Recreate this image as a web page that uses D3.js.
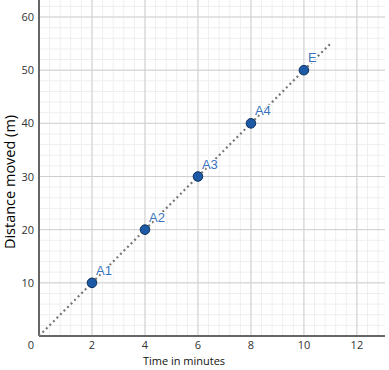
<!DOCTYPE html>
<html><head><meta charset="utf-8">
<script src="https://cdn.jsdelivr.net/npm/d3@7"></script>
<style>body{margin:0;background:#fff}svg{display:block}</style>
</head><body>
<script>
const times = [2, 4, 6, 8, 10];
const distances = [10, 20, 30, 40, 50];
const labels = ["A1", "A2", "A3", "A4", "E"];
const lineStart = [0, 0];
const lineEnd = [11, 55];
const xTicks = [0, 2, 4, 6, 8, 10, 12];
const yTicks = [10, 20, 30, 40, 50, 60];

const W = 389, H = 370;
const x = d3.scaleLinear().domain([0, 13.06]).range([39, 385]);
const y = d3.scaleLinear().domain([0, 63.2]).range([336, 0]);

const svg = d3.select("body").append("svg").attr("width", W).attr("height", H);

// minor grid
const minorX = d3.range(0, 13.06, 0.4);
const minorY = d3.range(0, 63.2, 2);
svg.append("g").selectAll("line").data(minorX).join("line")
  .attr("x1", d => x(d)).attr("x2", d => x(d)).attr("y1", 0).attr("y2", 336)
  .attr("stroke", "#efefef").attr("stroke-width", 1);
svg.append("g").selectAll("line").data(minorY).join("line")
  .attr("x1", 39).attr("x2", 385).attr("y1", d => y(d)).attr("y2", d => y(d))
  .attr("stroke", "#efefef").attr("stroke-width", 1);
// major grid
svg.append("g").selectAll("line").data(xTicks.filter(d => d > 0)).join("line")
  .attr("x1", d => x(d)).attr("x2", d => x(d)).attr("y1", 0).attr("y2", 336)
  .attr("stroke", "#cfcfcf").attr("stroke-width", 1);
svg.append("g").selectAll("line").data(yTicks).join("line")
  .attr("x1", 39).attr("x2", 385).attr("y1", d => y(d)).attr("y2", d => y(d))
  .attr("stroke", "#cfcfcf").attr("stroke-width", 1);

// axes
svg.append("line").attr("x1", x(0)).attr("x2", x(0)).attr("y1", 0).attr("y2", y(0))
  .attr("stroke", "#666").attr("stroke-width", 2);
svg.append("line").attr("x1", x(0)).attr("x2", 385).attr("y1", y(0)).attr("y2", y(0))
  .attr("stroke", "#666").attr("stroke-width", 2);

// tick labels
svg.append("g").selectAll("text").data(xTicks.filter(d => d > 0)).join("text")
  .attr("x", d => x(d)).attr("y", 349).attr("text-anchor", "middle")
  .attr("font-family", "Open Sans, sans-serif").attr("font-size", 11).attr("fill", "#333")
  .text(d => d);
svg.append("text").attr("x", 31).attr("y", 349).attr("text-anchor", "middle")
  .attr("font-family", "Open Sans, sans-serif").attr("font-size", 11).attr("fill", "#333").text("0");
svg.append("g").selectAll("text").data(yTicks).join("text")
  .attr("x", 34).attr("y", d => y(d) + 4).attr("text-anchor", "end")
  .attr("font-family", "Open Sans, sans-serif").attr("font-size", 11).attr("fill", "#333")
  .text(d => d);

// axis titles
svg.append("text").attr("x", 184).attr("y", 365).attr("text-anchor", "middle")
  .attr("font-family", "Open Sans, sans-serif").attr("font-size", 11).attr("fill", "#111")
  .text("Time in minutes");
svg.append("text").attr("transform", "translate(15, 182) rotate(-90)")
  .attr("text-anchor", "middle")
  .attr("font-family", "Open Sans, sans-serif").attr("font-size", 14.5).attr("fill", "#000")
  .text("Distance moved (m)");

// dotted line
svg.append("line")
  .attr("x1", x(lineStart[0])).attr("y1", y(lineStart[1]))
  .attr("x2", x(lineEnd[0])).attr("y2", y(lineEnd[1]))
  .attr("stroke", "#777").attr("stroke-width", 2.2)
  .attr("stroke-dasharray", "2,3");

// points
const pts = times.map((t, i) => ({t, d: distances[i], l: labels[i]}));
svg.append("g").selectAll("circle").data(pts).join("circle")
  .attr("cx", p => x(p.t)).attr("cy", p => y(p.d)).attr("r", 4.8)
  .attr("fill", "#1d5aa5").attr("stroke", "#0d2f5e").attr("stroke-width", 1);
svg.append("g").selectAll("text").data(pts).join("text")
  .attr("x", p => x(p.t) + 4).attr("y", p => y(p.d) - 8)
  .attr("font-family", "Liberation Sans, Arial, sans-serif").attr("font-size", 13).attr("fill", "#3a72bd")
  .attr("stroke", "#fff").attr("stroke-width", 2.5).attr("stroke-linejoin", "round")
  .attr("paint-order", "stroke")
  .text(p => p.l);
</script>
</body></html>
